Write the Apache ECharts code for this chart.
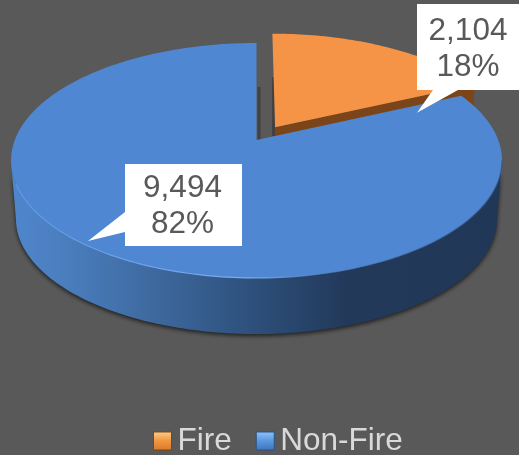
<!DOCTYPE html>
<html>
<head>
<meta charset="utf-8">
<style>html,body{margin:0;padding:0;background:#595959}#c{width:519px;height:455px}</style>
<script src="https://cdn.jsdelivr.net/npm/echarts@6/dist/echarts.min.js"></script>
</head>
<body>
<div id="c"></div>
<script>
var categories = ['Fire', 'Non-Fire'];
var values = [2104, 9494];

var FONT = '"Liberation Sans", Arial, sans-serif';
var total = values[0] + values[1];
var fireEnd = values[0] / total * Math.PI * 2;

// perspective projection of the tilted disc
var view = {ax: 256.5, ay: 140, A: 241.7, c: 113.9, k: 0.1745, drop: 58.8, shrink: 0.98};
var explode = 0.125;

function project(theta, r, off, bottom) {
  var X = off[0] + r * Math.sin(theta), Y = off[1] + r * Math.cos(theta);
  var w = 1 + view.k * Y, u = view.A * X / w, v = view.c * Y / w;
  return bottom
    ? [view.ax + view.shrink * u, view.ay + view.drop - view.shrink * v]
    : [view.ax + u, view.ay - v];
}
function arc(a, b, off, bottom) {
  var pts = [], n = Math.max(2, Math.ceil(Math.abs(b - a) / 0.02));
  for (var i = 0; i <= n; i++) pts.push(project(a + (b - a) * i / n, 1, off, bottom));
  return pts;
}
function wedgeTop(a, b, off) {
  return [project(0, 0, off, false)].concat(arc(a, b, off, false));
}
function wall(a, b, off) {
  return arc(a, b, off, false).concat(arc(b, a, off, true));
}
function poly(points, style) {
  return {type: 'polygon', shape: {points: points}, style: style};
}
var fireOff = [explode * Math.sin(fireEnd / 2) + 0.011, explode * Math.cos(fireEnd / 2) + 0.01];
var noOff = [0, 0];
// angle at which the disc outline is widest, where its side wall starts and ends
var sideStart = Math.acos(-view.k), sideEnd = Math.PI * 2 - sideStart;

function renderFire() {
  var apex = project(0, 0, fireOff, false), apexLow = project(0, 0, fireOff, true);
  var edge = project(fireEnd, 1, fireOff, false), edgeLow = project(fireEnd, 1, fireOff, true);
  return {type: 'group', children: [
    // shadow strip on the cut face beside the gap
    poly([[apex[0] - 3, apex[1] - 50], [apex[0], apex[1] - 50], [apex[0], apex[1] + 9], [apex[0] - 3, apex[1] + 9]],
      {fill: '#414141'}),
    poly([apex, edge, edgeLow, apexLow], {fill: '#7b4519'}),
    poly(wall(fireEnd - 0.12, fireEnd, fireOff), {fill: '#7b4519'}),
    poly(wedgeTop(0, fireEnd, fireOff), {fill: '#f59446'})
  ]};
}
function renderNonFire() {
  var apex = project(0, 0, noOff, false);
  var wallGrad = {type: 'linear', x: 10, y: 0, x2: 503, y2: 0, global: true, colorStops: [
    {offset: 0, color: '#4f86cd'}, {offset: 0.12, color: '#4a7dbd'}, {offset: 0.3, color: '#3d689d'},
    {offset: 0.5, color: '#2d4f7a'}, {offset: 0.68, color: '#22395a'}, {offset: 1, color: '#213757'}
  ]};
  var rimGrad = {type: 'linear', x: 10, y: 0, x2: 503, y2: 0, global: true, colorStops: [
    {offset: 0, color: '#5f98e2'}, {offset: 0.5, color: '#79aef0'}, {offset: 0.62, color: 'rgba(90,140,210,0.6)'},
    {offset: 1, color: 'rgba(50,85,135,0.8)'}
  ]};
  return {type: 'group', children: [
    poly([[apex[0] + 1, apex[1] - 53], [apex[0] + 4, apex[1] - 53], [apex[0] + 4, apex[1]], [apex[0] + 1, apex[1]]],
      {fill: '#414141'}),
    poly(wall(sideStart, sideEnd, noOff), {fill: wallGrad, shadowBlur: 4, shadowColor: 'rgba(0,0,0,0.65)', shadowOffsetY: 2}),
    poly(wedgeTop(fireEnd, Math.PI * 2, noOff), {fill: '#5087d3'}),
    {type: 'polyline', shape: {points: arc(sideStart, sideEnd - 0.2, noOff, false)},
      style: {fill: null, stroke: rimGrad, lineWidth: 1.2}}
  ]};
}
var callouts = [
  {box: [417, 4, 110, 86], tail: [[433, 90], [417, 112.7], [458, 90]], cx: 468, y1: 31, y2: 67},
  {box: [125, 164, 117, 82], tail: [[125, 212], [88, 241], [125, 232]], cx: 182.5, y1: 188, y2: 224}
];
function thousands(n) { return String(n).replace(/\B(?=(\d{3})+$)/g, ','); }
function renderLabels(params) {
  var i = params.dataIndex, c = callouts[i];
  var pct = Math.round(values[i] / total * 100) + '%';
  var textStyle = function (t, y) {
    return {type: 'text', style: {text: t, x: c.cx, y: y, fill: '#595959', font: '31.5px ' + FONT,
      textAlign: 'center', textVerticalAlign: 'middle'}};
  };
  return {type: 'group', children: [
    {type: 'rect', shape: {x: c.box[0], y: c.box[1], width: c.box[2], height: c.box[3]}, style: {fill: '#ffffff'}},
    poly(c.tail, {fill: '#ffffff'}),
    textStyle(thousands(values[i]), c.y1),
    textStyle(pct, c.y2)
  ]};
}
function keyGrad(a, b, c) {
  return {type: 'linear', x: 0, y: 0, x2: 0, y2: 1, colorStops: [
    {offset: 0, color: a}, {offset: 0.5, color: b}, {offset: 1, color: c}
  ]};
}
var chart = echarts.init(document.getElementById('c'), null, {renderer: 'canvas'});
chart.setOption({
  animation: false,
  backgroundColor: '#595959',
  legend: {
    left: 153, top: 425, itemWidth: 18, itemHeight: 18, itemGap: 24, icon: 'rect', padding: 0,
    selectedMode: false,
    textStyle: {color: '#d9d9d9', fontSize: 31.5, fontFamily: FONT, padding: [0, 0, 0, 1]},
    data: [
      {name: categories[0], itemStyle: {color: keyGrad('#ffcf8a', '#f0953f', '#d97a2a'), borderColor: '#7b4519', borderWidth: 1}},
      {name: categories[1], itemStyle: {color: keyGrad('#8cc4fa', '#5a96de', '#3c74bd'), borderColor: '#2f5380', borderWidth: 1}}
    ]
  },
  series: [
    {type: 'custom', name: categories[0], coordinateSystem: 'none', z: 2, silent: true,
      itemStyle: {color: '#f59446'}, data: [values[0]], renderItem: renderFire},
    {type: 'custom', name: categories[1], coordinateSystem: 'none', z: 3, silent: true,
      itemStyle: {color: '#5087d3'}, data: [values[1]], renderItem: renderNonFire},
    {type: 'custom', name: 'Data labels', coordinateSystem: 'none', z: 4, silent: true,
      data: values, renderItem: renderLabels}
  ]
});
</script>
</body>
</html>
